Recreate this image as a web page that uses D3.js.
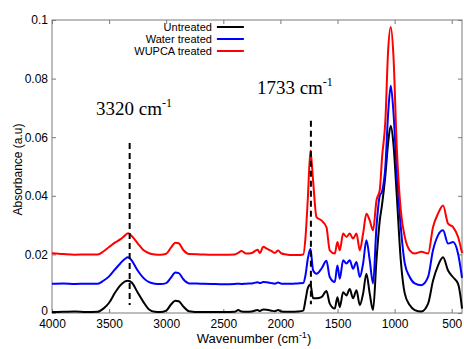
<!DOCTYPE html>
<html>
<head>
<meta charset="utf-8">
<script src="https://cdn.jsdelivr.net/npm/d3@7"></script>
<style>
  body { margin: 0; background: #fff; }
  .line { fill: none; stroke-width: 2; stroke-linejoin: round; }
</style>
</head>
<body>
<div id="chart"></div>
<script>
// wavenumber grid (cm-1) shared by all spectra
var wavenumber = [4000, 3900, 3800, 3700, 3600, 3550, 3500, 3450, 3400, 3360, 3335, 3300, 3250, 3200, 3150, 3100, 3050,
  3000, 2960, 2920, 2890, 2850, 2800, 2700, 2600, 2500, 2400, 2370, 2340, 2300, 2250, 2200, 2180, 2150, 2120, 2080, 2050,
  2020, 1990, 1950, 1900, 1850, 1800, 1780, 1760, 1737, 1714, 1684, 1641, 1597, 1568, 1524, 1501, 1480, 1451, 1422, 1393,
  1364, 1334, 1305, 1276, 1247, 1218, 1189, 1159, 1130, 1110, 1081, 1057, 1034, 1011, 981, 946, 911, 868, 824, 766, 707,
  664, 620, 576, 532, 488, 445, 415, 410];

var untreated = [0.0003, 0.0004, 0.0005, 0.0003, 0.0004, 0.0015, 0.0035, 0.0068, 0.0095, 0.0108, 0.0110, 0.0103, 0.0070, 0.0038, 0.0012, 0.0004, 0.0003,
  0.0008, 0.0028, 0.0042, 0.0040, 0.0022, 0.0006, 0.0003, 0.0003, 0.0003, 0.0004, 0.0010, 0.0005, 0.0004, 0.0005, 0.0010, 0.0007, 0.0012, 0.0011, 0.0008, 0.0006,
  0.0010, 0.0005, 0.0004, 0.0004, 0.0005, 0.0008, 0.0045, 0.0085, 0.0097, 0.0050, 0.0050, 0.0054, 0.0075, 0.0032, 0.0015, 0.0054, 0.0020, 0.0071, 0.0060, 0.0082,
  0.0050, 0.0078, 0.0027, 0.0066, 0.0134, 0.0066, 0.0010, 0.0180, 0.0316, 0.0370, 0.0470, 0.0580, 0.0639, 0.0580, 0.0400, 0.0180, 0.0066, 0.0027, 0.0010, 0.0005, 0.0032,
  0.0110, 0.0162, 0.0190, 0.0145, 0.0122, 0.0100, 0.0032, 0.0015];

var waterTreated = [0.0100, 0.0101, 0.0099, 0.0100, 0.0100, 0.0110, 0.0125, 0.0148, 0.0170, 0.0185, 0.0190, 0.0178, 0.0145, 0.0120, 0.0105, 0.0100, 0.0099,
  0.0102, 0.0120, 0.0138, 0.0136, 0.0115, 0.0101, 0.0100, 0.0099, 0.0098, 0.0099, 0.0100, 0.0099, 0.0100, 0.0101, 0.0105, 0.0102, 0.0106, 0.0105, 0.0102, 0.0100,
  0.0104, 0.0100, 0.0100, 0.0100, 0.0101, 0.0102, 0.0130, 0.0185, 0.0219, 0.0146, 0.0134, 0.0151, 0.0178, 0.0123, 0.0106, 0.0162, 0.0117, 0.0180, 0.0169, 0.0180,
  0.0151, 0.0174, 0.0123, 0.0169, 0.0248, 0.0180, 0.0101, 0.0293, 0.0400, 0.0415, 0.0500, 0.0680, 0.0776, 0.0690, 0.0480, 0.0293, 0.0169, 0.0123, 0.0101, 0.0095, 0.0123,
  0.0214, 0.0265, 0.0282, 0.0237, 0.0242, 0.0203, 0.0134, 0.0120];

var wupcaTreated = [0.0204, 0.0201, 0.0199, 0.0200, 0.0200, 0.0210, 0.0225, 0.0240, 0.0252, 0.0265, 0.0272, 0.0262, 0.0238, 0.0215, 0.0204, 0.0200, 0.0199,
  0.0202, 0.0222, 0.0240, 0.0238, 0.0215, 0.0201, 0.0200, 0.0199, 0.0199, 0.0200, 0.0205, 0.0212, 0.0203, 0.0205, 0.0216, 0.0205, 0.0226, 0.0220, 0.0212, 0.0205,
  0.0213, 0.0203, 0.0200, 0.0198, 0.0198, 0.0200, 0.0260, 0.0390, 0.0554, 0.0452, 0.0327, 0.0316, 0.0293, 0.0214, 0.0203, 0.0242, 0.0214, 0.0271, 0.0260, 0.0271,
  0.0254, 0.0271, 0.0214, 0.0271, 0.0339, 0.0316, 0.0282, 0.0384, 0.0420, 0.0531, 0.0656, 0.0894, 0.0976, 0.0883, 0.0565, 0.0350, 0.0260, 0.0214, 0.0203, 0.0209, 0.0203,
  0.0293, 0.0339, 0.0367, 0.0305, 0.0293, 0.0260, 0.0214, 0.0205];

var seriesNames = ["Untreated", "Water treated", "WUPCA treated"];
var seriesColors = ["#000000", "#0000ff", "#ff0000"];
var seriesValues = [untreated, waterTreated, wupcaTreated];

var xTicks = [4000, 3500, 3000, 2500, 2000, 1500, 1000, 500];
var yTicks = [0, 0.02, 0.04, 0.06, 0.08, 0.1];

// marker lines: wavenumber, top, bottom
var markers = [
  { w: 3320, top: 0.058, bottom: 0.0027, label: "3320", lx: 3615, ly: 0.0677 },
  { w: 1733, top: 0.0656, bottom: 0.003, label: "1733", lx: 2206, ly: 0.0748 }
];

var margin = { top: 20, right: 2, bottom: 36, left: 52 },
    width = 464 - margin.left - margin.right,
    height = 349 - margin.top - margin.bottom;

var xScale = d3.scaleLinear().domain([4000, 410]).range([0, width]);
var yScale = d3.scaleLinear().domain([0, 0.1]).range([height, 0]);

var svg = d3.select("#chart").append("svg")
    .attr("width", 464).attr("height", 349)
    .style("font-family", "Liberation Sans, Arial, sans-serif")
    .append("g")
    .attr("transform", "translate(" + margin.left + "," + margin.top + ")");

//Axes with inward ticks on all four sides
var frameColor = "#7a7a7a";
function styleAxis(node) {
  node.select(".domain").remove();
  node.selectAll("line").style("stroke", frameColor);
  node.selectAll("text").style("fill", "#000").style("font-size", "12px");
}
var xb = svg.append("g").attr("transform", "translate(0," + height + ")")
    .call(d3.axisBottom(xScale).tickValues(xTicks).tickSizeInner(-4).tickSizeOuter(0).tickPadding(6).tickFormat(d3.format("d")));
styleAxis(xb);
var xt = svg.append("g")
    .call(d3.axisTop(xScale).tickValues(xTicks).tickSizeInner(-4).tickSizeOuter(0).tickFormat(""));
styleAxis(xt);
var yl = svg.append("g")
    .call(d3.axisLeft(yScale).tickValues(yTicks).tickSizeInner(-4).tickSizeOuter(0).tickPadding(4)
      .tickFormat(function (d) { return d === 0 ? "0" : d3.format("~g")(d); }));
styleAxis(yl);
// lift the "0" a touch so it clears the 4000 label
yl.selectAll(".tick").filter(function (d) { return d === 0; }).select("text").attr("dy", "0.1em");
var yr = svg.append("g").attr("transform", "translate(" + width + ",0)")
    .call(d3.axisRight(yScale).tickValues(yTicks).tickSizeInner(-4).tickSizeOuter(0).tickFormat(""));
styleAxis(yr);

svg.append("rect").attr("width", width).attr("height", height)
    .style("fill", "none").style("stroke", frameColor).style("stroke-width", 1);

//Spectra
var line = d3.line()
    .curve(d3.curveMonotoneX)
    .x(function (d, i) { return xScale(wavenumber[i]); })
    .y(function (d) { return yScale(d); });

seriesValues.forEach(function (vals, k) {
  svg.append("path").attr("class", "line")
     .style("stroke", seriesColors[k])
     .attr("d", line(vals));
});

//Dashed marker lines + labels
markers.forEach(function (m) {
  svg.append("line")
     .attr("x1", xScale(m.w)).attr("x2", xScale(m.w))
     .attr("y1", yScale(m.top)).attr("y2", yScale(m.bottom))
     .style("stroke", "#000").style("stroke-width", 2).style("stroke-dasharray", "6,4");
  var t = svg.append("text")
     .attr("x", xScale(m.lx)).attr("y", yScale(m.ly))
     .style("font-family", "Liberation Serif, Times New Roman, serif")
     .style("font-size", "19px");
  t.append("tspan").text(m.label + " cm");
  t.append("tspan").attr("dy", -8).style("font-size", "12px").text("-1");
});

//Legend
var legend = svg.append("g").attr("transform", "translate(" + (xScale(2600)) + ",0)");
seriesNames.forEach(function (name, k) {
  var row = legend.append("g").attr("transform", "translate(0," + (7 + k * 12) + ")");
  row.append("text").attr("x", 0).attr("y", 4).attr("text-anchor", "end")
     .style("font-size", "11px").text(name);
  row.append("line").attr("x1", 5).attr("x2", 32)
     .style("stroke", seriesColors[k]).style("stroke-width", 2);
});

//Axis titles
var xl = svg.append("text").attr("x", width / 2 - 3).attr("y", height + 30)
    .attr("text-anchor", "middle").style("font-size", "13px");
xl.append("tspan").text("Wavenumber (cm");
xl.append("tspan").attr("dy", -5).style("font-size", "9px").text("-1");
xl.append("tspan").attr("dy", 5).text(")");

svg.append("text")
    .attr("transform", "translate(" + (-30) + "," + (height / 2 + 3) + ") rotate(-90)")
    .attr("text-anchor", "middle").style("font-size", "12px")
    .text("Absorbance (a.u)");
</script>
</body>
</html>
